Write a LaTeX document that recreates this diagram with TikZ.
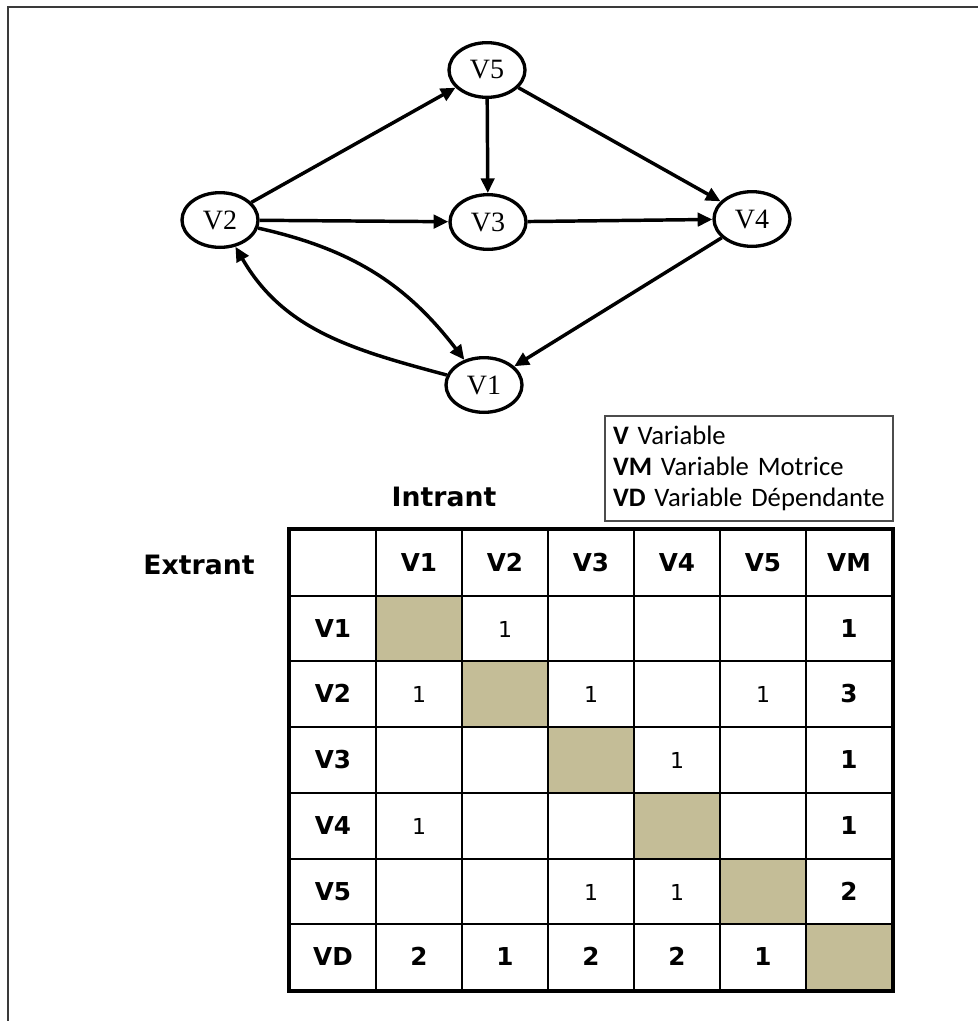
\documentclass[tikz,border=0pt]{standalone}
\usepackage{fontspec}
\setmainfont{Liberation Serif}
\newfontfamily\tabfont{DejaVu Sans}
\newfontfamily\legfont{Carlito}
\usepackage{tikz}
\usetikzlibrary{arrows.meta,positioning,matrix,shapes.geometric}
\definecolor{diagtan}{HTML}{C4BD97}
\definecolor{framegray}{HTML}{3A3A3A}

\begin{document}
\begin{tikzpicture}[x=0.75pt,y=0.75pt,
  var/.style={draw,ellipse,line width=2.5pt,minimum width=57pt,minimum height=41pt,inner sep=0pt,font=\fontsize{21}{23}\selectfont},
  arr/.style={-{Triangle[length=11pt,width=10pt]},line width=2.6pt},
  cell/.style={draw,line width=1.5pt,anchor=center,minimum width=64.5pt,minimum height=49.3pt,inner sep=0pt,
    text height=13pt,text depth=0pt,font=\tabfont\fontsize{16.5}{18}\selectfont},
  hd/.style={font=\tabfont\bfseries\fontsize{18.5}{20}\selectfont},
  diag/.style={fill=diagtan},
  lbl/.style={font=\tabfont\bfseries\fontsize{20}{22}\selectfont}]
  \useasboundingbox (0,0) rectangle (978,-1021);
  \draw[framegray,line width=1.5pt] (8,-1021) -- (8,-7) -- (978,-7);
  % graph of the variables
  \node[var] (v5) at (487,-70) {V5};
  \node[var] (v2) at (220,-220) {V2};
  \node[var] (v3) at (488,-222) {V3};
  \node[var] (v4) at (752,-219) {V4};
  \node[var] (v1) at (484,-385) {V1};
  \draw[arr] (v2) -- (v5);
  \draw[arr] (v5) -- (v3);
  \draw[arr] (v5) -- (v4);
  \draw[arr] (v2) -- (v3);
  \draw[arr] (v3) -- (v4);
  \draw[arr] (v4) -- (v1);
  \draw[arr] (v2) to[bend left=20] (v1);
  \draw[arr] (v1) to[out=165,in=-60] (v2);
  % legend
  \node[draw=black!70,line width=1.5pt,anchor=north west,text width=204pt,inner xsep=6pt,
    minimum height=78.75pt,align=left,font=\legfont\fontsize{20}{23.5}\selectfont] (legend) at (604,-415)
    {\textbf{V} Variable\\ \textbf{VM} Variable Motrice\\ \textbf{VD} Variable Dépendante};
  % matrix of influences
  \node[lbl] (intrant) at (444,-497) {Intrant};
  \node[lbl] (extrant) at (199,-565) {Extrant};
  \matrix (tab) [matrix of nodes,nodes in empty cells,column sep=-1.5pt,row sep=-1.5pt,
    nodes={cell},row 1/.style={nodes={hd}},column 1/.style={nodes={hd}},
    row 7/.style={nodes={hd}},column 7/.style={nodes={hd}}] at (591,-760) {
       & V1 & V2 & V3 & V4 & V5 & VM \\
    V1 & |[diag]| & 1 & & & & 1 \\
    V2 & 1 & |[diag]| & 1 & & 1 & 3 \\
    V3 & & & |[diag]| & 1 & & 1 \\
    V4 & 1 & & & |[diag]| & & 1 \\
    V5 & & & 1 & 1 & |[diag]| & 2 \\
    VD & 2 & 1 & 2 & 2 & 1 & |[diag]| \\
  };
  \draw[line width=2.4pt] (tab-1-1.north west) rectangle (tab-7-7.south east);
\end{tikzpicture}
\end{document}
